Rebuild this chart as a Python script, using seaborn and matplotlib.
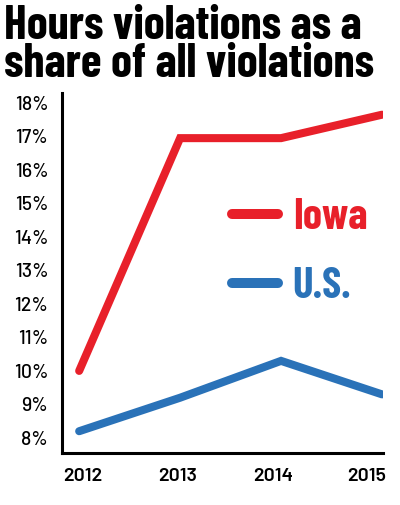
import pandas as pd
import matplotlib
matplotlib.use("Agg")
import matplotlib.pyplot as plt
import seaborn as sns

years = ["2012", "2013", "2014", "2015"]
iowa = [10.0, 16.95, 16.95, 17.65]
us = [8.2, 9.2, 10.3, 9.3]
series = ["Iowa", "U.S."]
colors = ["#e8202a", "#2a72b8"]
ytick_vals = list(range(8, 19))

sns.set_style("white")
plt.rcParams["font.family"] = ["Barlow", "Barlow Semi Condensed", "DejaVu Sans"]
plt.rcParams["text.color"] = "black"
plt.rcParams["xtick.color"] = "black"
plt.rcParams["ytick.color"] = "black"

df = pd.DataFrame({
    "year": list(range(len(years))) * 2,
    "value": iowa + us,
    "series": [series[0]] * len(years) + [series[1]] * len(years),
})

fig = plt.figure(figsize=(4.0, 5.05), dpi=100)
ax = fig.add_axes([0.155, 0.103, 0.8025, 0.713])
sns.lineplot(data=df, x="year", y="value", hue="series", palette=colors,
             linewidth=5.8, ax=ax, solid_capstyle="round", solid_joinstyle="miter")

ax.set_xlim(-0.17, 3.01)
ax.set_ylim(7.55, 18.3)
ax.set_yticks(ytick_vals)
ax.set_yticklabels([f"{v}%" for v in ytick_vals], fontsize=14, fontweight=500)
ax.set_xticks([0.04, 0.97, 1.92, 2.85])
ax.set_xticklabels(years, fontsize=14, fontweight=600)
ax.tick_params(axis="y", length=0, pad=10)
ax.tick_params(axis="x", length=0, pad=11)
ax.set_xlabel("")
ax.set_ylabel("")
for s in ["top", "right"]:
    ax.spines[s].set_visible(False)
for s in ["left", "bottom"]:
    ax.spines[s].set_color("black")
    ax.spines[s].set_linewidth(2.2)

leg = ax.legend(loc="upper left", bbox_to_anchor=(0.41, 0.815), frameon=False,
                handlelength=1.05, handletextpad=0.35,
                labelspacing=0.7, labelcolor="linecolor",
                prop={"family": ["Barlow Condensed", "DejaVu Sans"],
                      "weight": "bold", "size": 31})
for h in leg.get_lines():
    h.set_linewidth(7.2)
    h.set_solid_capstyle("round")

fig.text(0.01, 0.99, "Hours violations as a\nshare of all violations",
         fontsize=34, fontweight="bold", va="top", ha="left", color="black",
         family=["Barlow Condensed", "DejaVu Sans"], linespacing=0.84)

fig.savefig("out.png", dpi=100)
